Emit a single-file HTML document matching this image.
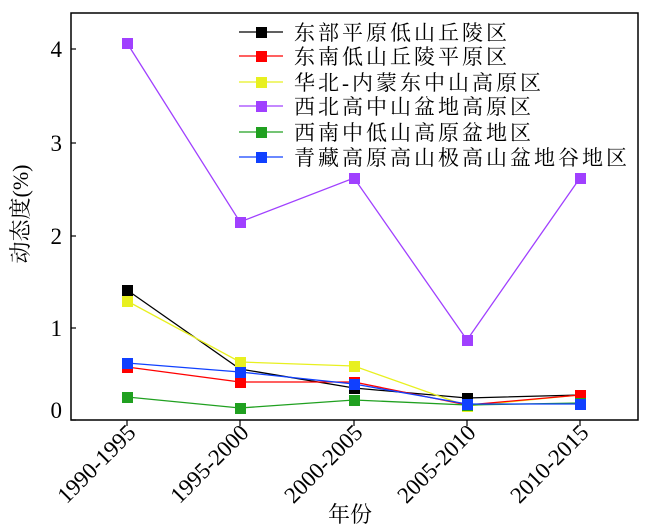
<!DOCTYPE html>
<html><head><meta charset="utf-8"><style>
body{margin:0;background:#fff;}
svg{display:block;}
.t{font-family:"Liberation Serif","Noto Serif CJK SC",serif;}
.c{font-family:"Liberation Serif","Noto Serif CJK SC","Noto Sans CJK SC",serif;}
</style></head><body>
<svg width="666" height="532" viewBox="0 0 666 532" xmlns="http://www.w3.org/2000/svg">
<rect x="71" y="13" width="567" height="407" fill="none" stroke="#000" stroke-width="1.5"/>
<g stroke="#000" stroke-width="1.2">
<line x1="71" y1="49" x2="76" y2="49"/><line x1="71" y1="143" x2="76" y2="143"/><line x1="71" y1="236" x2="76" y2="236"/><line x1="71" y1="328" x2="76" y2="328"/><line x1="71" y1="420" x2="76" y2="420"/>
<line x1="127" y1="420" x2="127" y2="426"/><line x1="240" y1="420" x2="240" y2="426"/><line x1="354" y1="420" x2="354" y2="426"/><line x1="467" y1="420" x2="467" y2="426"/><line x1="580" y1="420" x2="580" y2="426"/>
</g>
<g class="t" font-size="23" text-anchor="end">
<text x="62" y="57">4</text><text x="62" y="151">3</text><text x="62" y="244">2</text><text x="62" y="336">1</text><text x="62" y="418">0</text>
</g>
<g class="t" font-size="23" text-anchor="end">
<text transform="translate(137,434) rotate(-45)">1990-1995</text>
<text transform="translate(250,434) rotate(-45)">1995-2000</text>
<text transform="translate(364,434) rotate(-45)">2000-2005</text>
<text transform="translate(477,434) rotate(-45)">2005-2010</text>
<text transform="translate(590,434) rotate(-45)">2010-2015</text>
</g>
<text class="c" x="350" y="522" font-size="22" text-anchor="middle">年份</text>
<text class="c" font-size="22" text-anchor="middle" transform="translate(28,214) rotate(-90)">动态度(%)</text>
<g stroke-width="1.3" fill="none">
<polyline stroke="#a040ff" points="127,43 240,222 354,178 467,340 580,178"/>
<polyline stroke="#000" points="127,290 240,369 354,388 467,398 580,395"/>
<polyline stroke="#e8f020" points="127,301 240,362 354,366 467,406 580,395"/>
<polyline stroke="#ff0000" points="127,367 240,382 354,382 467,405 580,395"/>
<polyline stroke="#20a020" points="127,397 240,408 354,400 467,405 580,403"/>
<polyline stroke="#1040ff" points="127,363 240,372 354,384 467,404 580,404"/>
</g>
<g>
<g fill="#a040ff"><rect x="122" y="38" width="11" height="11"/><rect x="235" y="217" width="11" height="11"/><rect x="349" y="173" width="11" height="11"/><rect x="462" y="335" width="11" height="11"/><rect x="575" y="173" width="11" height="11"/></g>
<g fill="#000"><rect x="122" y="285" width="11" height="11"/><rect x="235" y="364" width="11" height="11"/><rect x="349" y="383" width="11" height="11"/><rect x="462" y="393" width="11" height="11"/><rect x="575" y="390" width="11" height="11"/></g>
<g fill="#e8f020"><rect x="122" y="296" width="11" height="11"/><rect x="235" y="357" width="11" height="11"/><rect x="349" y="361" width="11" height="11"/><rect x="462" y="401" width="11" height="11"/><rect x="575" y="390" width="11" height="11"/></g>
<g fill="#ff0000"><rect x="122" y="362" width="11" height="11"/><rect x="235" y="377" width="11" height="11"/><rect x="349" y="377" width="11" height="11"/><rect x="462" y="400" width="11" height="11"/><rect x="575" y="390" width="11" height="11"/></g>
<g fill="#20a020"><rect x="122" y="392" width="11" height="11"/><rect x="235" y="403" width="11" height="11"/><rect x="349" y="395" width="11" height="11"/><rect x="462" y="400" width="11" height="11"/><rect x="575" y="398" width="11" height="11"/></g>
<g fill="#1040ff"><rect x="122" y="358" width="11" height="11"/><rect x="235" y="367" width="11" height="11"/><rect x="349" y="379" width="11" height="11"/><rect x="462" y="399" width="11" height="11"/><rect x="575" y="399" width="11" height="11"/></g>
</g>
<g stroke-width="1.3">
<line x1="239" y1="32" x2="283" y2="32" stroke="#000"/><rect x="256" y="27" width="11" height="11" fill="#000"/>
<line x1="239" y1="56" x2="283" y2="56" stroke="#ff0000"/><rect x="256" y="51" width="11" height="11" fill="#ff0000"/>
<line x1="239" y1="82" x2="283" y2="82" stroke="#e8f020"/><rect x="256" y="77" width="11" height="11" fill="#e8f020"/>
<line x1="239" y1="106" x2="283" y2="106" stroke="#a040ff"/><rect x="256" y="101" width="11" height="11" fill="#a040ff"/>
<line x1="239" y1="132" x2="283" y2="132" stroke="#20a020"/><rect x="256" y="127" width="11" height="11" fill="#20a020"/>
<line x1="239" y1="157" x2="283" y2="157" stroke="#1040ff"/><rect x="256" y="152" width="11" height="11" fill="#1040ff"/>
</g>
<g class="c" font-size="21" letter-spacing="3">
<text x="294" y="40">东部平原低山丘陵区</text>
<text x="294" y="64">东南低山丘陵平原区</text>
<text x="294" y="90">华北-内蒙东中山高原区</text>
<text x="294" y="114">西北高中山盆地高原区</text>
<text x="294" y="140">西南中低山高原盆地区</text>
<text x="294" y="165">青藏高原高山极高山盆地谷地区</text>
</g>
</svg>
</body></html>
